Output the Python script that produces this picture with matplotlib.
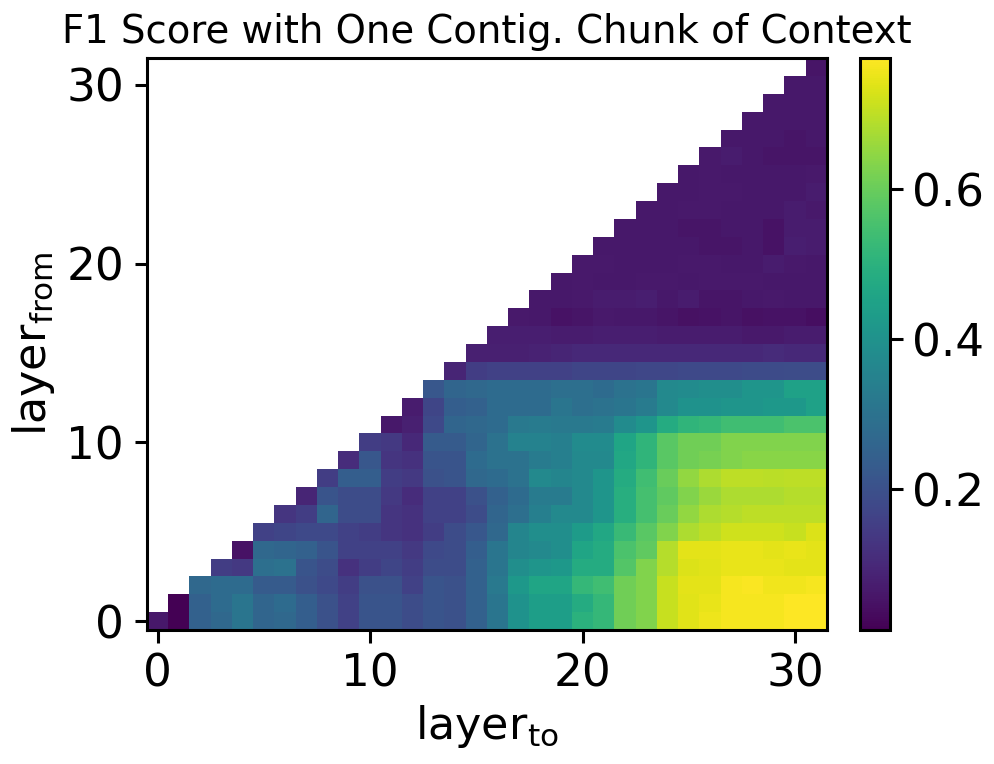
import numpy as np
import matplotlib
matplotlib.use("Agg")
import matplotlib.pyplot as plt

# each row lists layer_to = layer_from .. 31
row_00 = [.06,.012,.25,.27,.31,.26,.27,.24,.20,.16,.21,.21,.19,.21,.20,.25,.31,.40,.44,.44,.50,.52,.61,.63,.71,.74,.755,.765,.765,.765,.775,.775]
row_01 = [.012,.25,.28,.31,.26,.28,.24,.20,.16,.21,.21,.19,.21,.20,.25,.31,.40,.44,.44,.48,.52,.61,.63,.71,.74,.75,.765,.765,.765,.775,.775]
row_02 = [.27,.28,.28,.23,.23,.20,.18,.15,.20,.20,.16,.21,.20,.25,.32,.42,.46,.46,.52,.54,.61,.63,.71,.745,.745,.765,.77,.76,.76,.765]
row_03 = [.15,.14,.29,.30,.21,.19,.12,.15,.17,.15,.19,.19,.25,.31,.39,.41,.42,.48,.48,.57,.63,.69,.735,.74,.75,.75,.75,.745,.745]
row_04 = [.05,.27,.26,.25,.21,.16,.16,.16,.14,.18,.19,.24,.31,.36,.37,.39,.46,.48,.56,.59,.69,.745,.745,.75,.75,.745,.75,.745]
row_05 = [.16,.17,.18,.18,.16,.15,.13,.12,.15,.19,.22,.27,.36,.39,.39,.43,.47,.53,.58,.63,.68,.70,.72,.72,.72,.71,.735]
row_06 = [.13,.15,.26,.19,.19,.13,.12,.16,.16,.19,.26,.29,.34,.37,.37,.41,.49,.55,.60,.65,.68,.69,.70,.70,.70,.70]
row_07 = [.09,.21,.19,.19,.14,.11,.16,.16,.20,.25,.28,.33,.33,.37,.41,.49,.55,.59,.63,.66,.68,.68,.68,.69,.69]
row_08 = [.15,.24,.24,.15,.14,.20,.21,.27,.28,.30,.37,.36,.37,.41,.48,.54,.60,.65,.68,.70,.70,.695,.70,.70]
row_09 = [.11,.22,.13,.12,.21,.21,.28,.30,.30,.33,.34,.37,.37,.47,.51,.58,.61,.62,.63,.64,.64,.64,.64]
row_10 = [.15,.14,.10,.23,.23,.26,.30,.35,.35,.34,.38,.38,.46,.51,.58,.61,.61,.63,.63,.63,.63,.63]
row_11 = [.06,.08,.18,.26,.27,.28,.32,.33,.32,.32,.33,.38,.41,.48,.51,.52,.54,.54,.54,.56,.56]
row_12 = [.07,.17,.24,.25,.28,.28,.28,.31,.29,.30,.31,.33,.37,.40,.40,.41,.41,.42,.42,.45]
row_13 = [.22,.26,.27,.28,.28,.28,.29,.29,.28,.30,.31,.37,.38,.39,.39,.41,.41,.45,.45]
row_14 = [.09,.15,.16,.16,.16,.16,.17,.17,.17,.175,.175,.18,.18,.18,.185,.185,.19,.19]
row_15 = [.08,.08,.08,.085,.09,.10,.10,.10,.10,.10,.10,.10,.10,.10,.105,.10,.10]
row_16 = [.075,.075,.075,.07,.07,.075,.075,.075,.07,.07,.07,.07,.065,.065,.07,.07]
row_17 = [.065,.06,.05,.055,.065,.06,.06,.055,.045,.05,.055,.045,.05,.05,.04]
row_18 = [.06,.06,.065,.07,.07,.075,.06,.07,.055,.055,.06,.065,.06,.06]
row_19 = [.06,.065,.06,.06,.065,.065,.06,.065,.065,.065,.06,.06,.06]
row_20 = [.065,.065,.06,.06,.06,.065,.065,.06,.06,.07,.065,.06]
row_21 = [.06,.06,.06,.06,.06,.055,.055,.06,.05,.075,.07]
row_22 = [.06,.06,.06,.055,.055,.06,.06,.05,.07,.07]
row_23 = [.06,.06,.065,.065,.06,.06,.06,.07,.065]
row_24 = [.06,.06,.065,.065,.06,.06,.06,.07]
row_25 = [.06,.065,.06,.06,.06,.06,.065]
row_26 = [.065,.07,.06,.055,.055,.055]
row_27 = [.06,.06,.06,.055,.06]
row_28 = [.06,.06,.06,.06]
row_29 = [.06,.06,.06]
row_30 = [.06,.06]
row_31 = [.055]
rows = [row_00,row_01,row_02,row_03,row_04,row_05,row_06,row_07,row_08,row_09,row_10,
        row_11,row_12,row_13,row_14,row_15,row_16,row_17,row_18,row_19,row_20,row_21,
        row_22,row_23,row_24,row_25,row_26,row_27,row_28,row_29,row_30,row_31]

tick_positions = [0, 10, 20, 30]
colorbar_ticks = [0.2, 0.4, 0.6]

n = len(rows)
matrix = np.full((n, n), np.nan)
for i, r in enumerate(rows):
    matrix[i, n - len(r):] = r

W, H = 995, 764
fig = plt.figure(figsize=(W/100, H/100), dpi=100)
ax = fig.add_axes([147/W, 1-630/H, 680/W, 572/H])
im = ax.imshow(matrix, origin="lower", aspect="auto", cmap="viridis",
               vmin=0.012, vmax=0.775, interpolation="nearest")
ax.set_xticks(tick_positions)
ax.set_yticks(tick_positions)
ax.tick_params(labelsize=32.6, width=2.2, length=9, pad=7.5)
for s in ax.spines.values():
    s.set_linewidth(2.2)
ax.set_xlabel(r"layer$_{\mathrm{to}}$", fontsize=32, labelpad=5)
ax.set_ylabel(r"layer$_{\mathrm{from}}$", fontsize=32, labelpad=6.5)
ax.set_title("F1 Score with One Contig. Chunk of Context", fontsize=27.8, pad=11, x=0.5)
cax = fig.add_axes([860/W, 1-630/H, 30/W, 572/H])
cb = fig.colorbar(im, cax=cax)
cb.set_ticks(colorbar_ticks)
cb.ax.tick_params(labelsize=32.6, width=2.2, length=9, pad=6.5)
cb.outline.set_linewidth(2.2)
fig.savefig("out.png", dpi=100)
